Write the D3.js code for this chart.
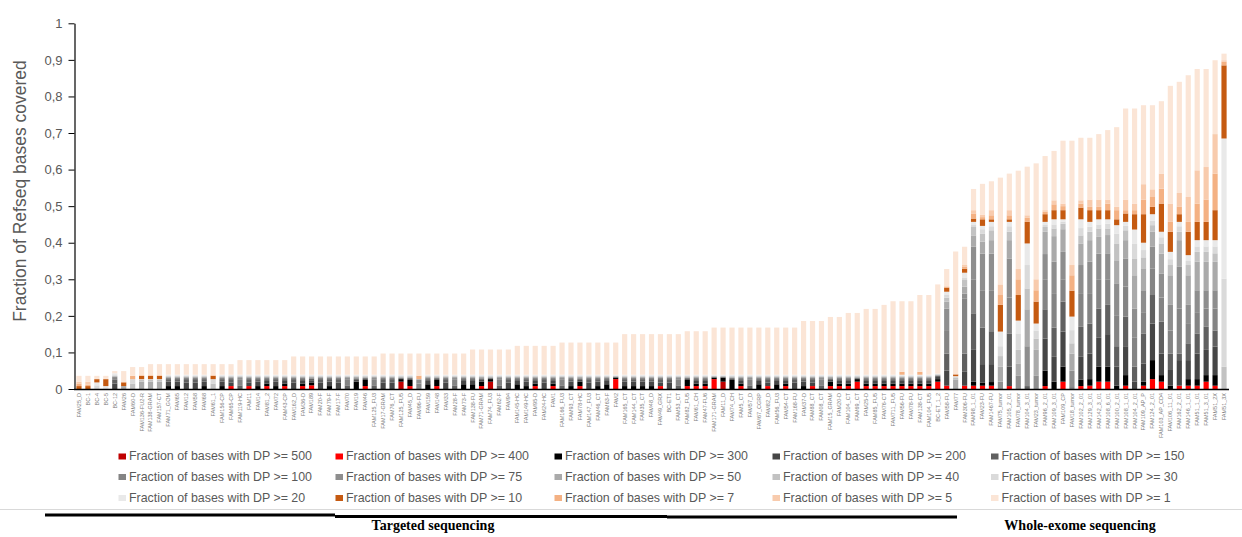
<!DOCTYPE html>
<html>
<head>
<meta charset="utf-8">
<script src="https://cdn.jsdelivr.net/npm/d3@7"></script>
<style>
  html, body { margin: 0; padding: 0; background: #fff; }
  svg { display: block; }
</style>
</head>
<body>
<svg id="chart" width="1242" height="537"></svg>
<script>
// Samples, in plotted order (targeted panels first, whole-exome last)
const samples = [
  "FAM25_D","BC-1","BC-4","BC-5","BC-12","FAM26","FAM60-D","FAM136-FU2-R","FAM138-GRAM","FAM157-CT",
  "FAM71_GOM","FAM65","FAM12","FAM58","FAM68","FAM61_1","FAM156-CP","FAM65-CP","FAM119-HC","FAM11",
  "FAM14","FAM81_2","FAM72","FAM43-CP","FAM162_D","FAM36-D","FAM189","FAM20-F","FAM79-F","FAM17-F",
  "FAM70","FAM19","FAM46","FAM125_FU3","FAM17-GRAM","FAM76_CT","FAM125_FU5","FAM45_D","FAM96-FU","FAM159",
  "FAM148","FAM33","FAM28-F","FAM73-F","FAM138-FU","FAM71-GRAM","FAM74_FU3","FAM62-F","FAM94","FAM145-HC",
  "FAM149-HC","FAM95-D","FAM24-HC","FAM1","FAM166_FU3","FAM93_CT","FAM78-HC","FAM147_FU3","FAM46_CT","FAM63-F",
  "FAM2","FAM165_CT","FAM144_CT","FAM35_CT","FAM48_D","FAM49_GRX","BC-ET1","FAM53_CT","FAM82_FU5","FAM61_CH",
  "FAM47-FU6","FAM171-GRAM","FAM11_D","FAM74_CH","FAM5_CT","FAM57_D","FAM67_CGRP","FAM82_D","FAM56_FU3","FAM54-CT",
  "FAM168-FU","FAM37-D","FAM88_CT","FAM08_CT","FAM15_GRAM","FAM20-D","FAM104_CT","FAM69_CT","FAM25-D","FAM85_FU5",
  "FAM76-CT","FAM711_FU5","FAM56-FU","FAM78-FU","FAM138-CT","FAM104_FU5","BC-ET_1_2","FAM58-FU","FAM77","FAM306-FU",
  "FAM98_1_01","FAM23-FU","FAM1467-FU","FAM75_tumor","FAM105_2_01","FAM78_tumor","FAM104_3_01","FAM23_tumor","FAM96_2_01","FAM109_3_01",
  "FAM109_CP","FAM18_tumor","FAM102_2_01","FAM129_3_01","FAM142_3_01","FAM108_6_01","FAM100_2_01","FAM108_1_01","FAM104_2_01","FAM109_AP_P",
  "FAM124_2_01","FAM103_AP_CD4","FAM106_11_01","FAM162_2_01","FAM146_1_01","FAM51_1_01","FAM51_3_01","FAM51_2X","FAM51_3X"
];

// Fraction of RefSeq bases reaching each depth threshold, one value per sample
const dp500 = [
  0,0,0,0,0,0,0,0,0,0,
  0,0,0,0,0,0,0,0,0,0,
  0,0,0,0,0,0,0,0,0,0,
  0,0,0,0,0,0,.02,0,0,0,
  0,0,0,0,0,0,.02,0,0,0,
  0,0,0,0,0,0,0,0,0,0,
  0,0,0,0,0,0,0,0,0,0,
  0,0,.02,0,0,0,0,0,0,0,
  0,0,0,0,0,0,0,0,0,0,
  0,0,0,0,0,0,0,0,0,0,
  0,0,0,0,0,0,0,0,0,0,
  0,0,0,0,0,0,0,0,0,0,
  0,0,0,0,0,0,0,0,0
];
const dp400 = [
  0,0,0,0,0,0,0,0,0,0,
  0,0,0,0,0,0,0,.008,0,.008,
  0,.008,0,.008,0,.008,.01,0,0,0,
  0,0,.008,0,0,0,.02,.008,0,0,
  .008,0,0,0,0,.008,.02,0,0,0,
  0,.008,0,.008,0,0,.008,0,0,0,
  .027,0,0,0,0,.008,0,0,.008,.008,
  .008,.027,.02,0,.008,0,0,.008,0,.008,
  0,0,.008,0,.008,.008,.008,.02,.008,.008,
  .008,.008,.008,.008,.008,.008,.02,.009,0,.009,
  .009,.009,.009,0,.008,0,0,0,.008,0,
  .02,0,.008,.009,.02,.02,0,.009,0,.009,
  .027,.02,0,.009,.009,.009,.02,.009,0
];
const dp300 = [
  0,0,0,0,0,0,0,0,0,0,
  .008,.008,0,0,.008,0,.008,.008,0,.008,
  .008,.015,.008,.015,0,.015,.018,0,.008,0,
  0,.02,.025,0,0,0,.027,.025,0,.013,
  .025,0,0,.013,.013,.02,.027,0,0,.013,
  .008,.015,0,.015,0,.008,.02,0,.008,.013,
  .031,.008,.008,.008,.008,.008,0,0,.025,.015,
  .015,.031,.031,.025,.015,0,.013,.008,.013,.015,
  0,.008,.008,0,.02,.015,.015,.027,.015,.015,
  .015,.015,.015,.015,.015,.015,.027,.009,0,.009,
  .02,.017,.019,0,.008,0,0,0,.05,.02,
  .061,0,.026,.027,.061,.061,.009,.038,0,.02,
  .079,.038,.009,.009,.027,.027,.038,.038,0
];
const dp200 = [
  0,0,0,0,.015,0,0,0,0,0,
  .02,.02,.018,.018,.02,0,.02,.018,0,.018,
  .02,.022,.02,.022,.018,.022,.024,.018,.02,.018,
  0,.025,.028,0,.018,.018,.029,.028,0,.022,
  .028,.018,0,.022,.022,.025,.029,0,.018,.022,
  .02,.022,.018,.022,0,.02,.025,.018,.02,.022,
  .032,.02,.02,.02,.02,.018,.018,0,.028,.022,
  .022,.032,.032,.028,.022,0,.022,.018,.022,.022,
  .018,.02,.018,0,.025,.022,.022,.029,.022,.022,
  .022,.022,.022,.022,.022,.022,.033,.05,0,.047,
  .107,.068,.068,0,.061,0,0,0,.138,.088,
  .157,0,.088,.097,.14,.15,.061,.117,.02,.07,
  .179,.097,.052,.079,.079,.097,.107,.116,0
];
const dp150 = [
  0,0,0,0,.025,0,0,0,0,0,
  .027,.027,.027,.027,.027,0,.027,.027,.01,.027,
  .027,.027,.027,.027,.027,.027,.028,.027,.027,.027,
  .01,.028,.03,.01,.027,.027,.03,.03,0,.027,
  .03,.027,.01,.027,.027,.028,.03,.01,.027,.027,
  .027,.027,.027,.027,.01,.027,.028,.027,.027,.027,
  .033,.027,.027,.027,.027,.027,.027,.01,.03,.027,
  .027,.033,.033,.03,.027,.01,.027,.027,.027,.027,
  .027,.027,.027,.01,.028,.027,.027,.03,.027,.027,
  .027,.027,.027,.027,.027,.027,.036,.097,0,.097,
  .207,.168,.158,0,.152,0,.008,0,.218,.168,
  .239,0,.17,.179,.22,.23,.117,.198,.061,.152,
  .257,.184,.097,.097,.125,.152,.17,.16,0
];
const dp100 = [
  0,0,0,0,.03,0,0,0,0,0,
  .03,.03,.03,.03,.03,0,.03,.03,.025,.03,
  .03,.03,.03,.03,.03,.03,.03,.03,.03,.03,
  .025,.03,.031,.025,.03,.03,.031,.031,.015,.03,
  .031,.03,.025,.03,.03,.03,.031,.025,.03,.03,
  .03,.03,.03,.03,.025,.03,.03,.03,.03,.03,
  .034,.03,.03,.03,.03,.03,.03,.025,.031,.03,
  .03,.034,.034,.031,.03,.025,.03,.03,.03,.03,
  .03,.03,.03,.025,.03,.03,.03,.031,.03,.03,
  .03,.03,.03,.03,.03,.03,.037,.161,0,.248,
  .3,.27,.27,0,.25,0,.008,0,.3,.26,
  .3,.008,.26,.26,.3,.3,.2,.28,.14,.21,
  .33,.25,.16,.22,.18,.21,.22,.22,0
];
const dp75 = [
  0,0,0,0,.033,0,0,0,0,0,
  .032,.032,.032,.032,.032,0,.032,.032,.03,.032,
  .032,.032,.032,.032,.032,.032,.032,.032,.032,.032,
  .03,.032,.032,.03,.032,.032,.032,.032,.025,.032,
  .032,.032,.03,.032,.032,.032,.032,.03,.032,.032,
  .032,.032,.032,.032,.03,.032,.032,.032,.032,.032,
  .034,.032,.032,.032,.032,.032,.032,.03,.032,.032,
  .032,.034,.034,.032,.032,.03,.032,.032,.032,.032,
  .032,.032,.032,.03,.032,.032,.032,.032,.032,.032,
  .032,.032,.032,.032,.032,.032,.038,.22,0,.261,
  .389,.37,.37,.02,.357,.036,.117,.036,.369,.348,
  .375,.05,.339,.348,.37,.371,.289,.357,.22,.27,
  .389,.316,.23,.334,.23,.27,.27,.27,0
];
const dp50 = [
  0,0,0,0,.035,.008,0,.02,.02,.02,
  .034,.034,.034,.034,.034,0,.034,.034,.033,.034,
  .034,.034,.034,.034,.034,.034,.034,.034,.034,.034,
  .033,.034,.034,.033,.034,.034,.034,.034,.027,.034,
  .034,.034,.033,.034,.034,.034,.034,.033,.034,.034,
  .034,.034,.034,.034,.033,.034,.034,.034,.034,.034,
  .035,.034,.034,.034,.034,.034,.034,.033,.034,.034,
  .034,.035,.035,.034,.034,.033,.034,.034,.034,.034,
  .034,.034,.034,.033,.034,.034,.034,.034,.034,.034,
  .034,.034,.034,.034,.034,.034,.039,.239,.025,.28,
  .42,.403,.407,.061,.407,.07,.218,.107,.43,.418,
  .437,.097,.398,.407,.416,.421,.352,.407,.311,.33,
  .43,.37,.311,.407,.311,.348,.348,.348,0
];
const dp40 = [
  0,0,0,0,.036,.008,.015,.025,.025,.025,
  .035,.035,.035,.035,.035,.015,.035,.035,.035,.035,
  .035,.035,.035,.035,.035,.035,.035,.035,.035,.035,
  .035,.035,.035,.035,.035,.035,.035,.035,.027,.035,
  .035,.035,.035,.035,.035,.035,.035,.035,.035,.035,
  .035,.035,.035,.035,.035,.035,.035,.035,.035,.035,
  .036,.035,.035,.035,.035,.035,.035,.035,.035,.035,
  .035,.036,.036,.035,.035,.035,.035,.035,.035,.035,
  .035,.035,.035,.035,.035,.035,.035,.035,.035,.035,
  .035,.035,.035,.035,.035,.035,.04,.25,.03,.298,
  .443,.425,.434,.09,.43,.107,.275,.138,.443,.439,
  .452,.125,.42,.43,.439,.439,.398,.434,.357,.36,
  .448,.398,.339,.43,.339,.375,.375,.371,.061
];
const dp30 = [
  0,0,.01,0,.04,.008,.027,.027,.027,.027,
  .037,.037,.037,.037,.037,.027,.037,.037,.037,.037,
  .037,.037,.037,.037,.037,.037,.037,.037,.037,.037,
  .037,.037,.037,.037,.037,.037,.037,.037,.027,.037,
  .037,.037,.037,.037,.037,.037,.037,.037,.037,.037,
  .037,.037,.037,.037,.037,.037,.037,.037,.037,.037,
  .037,.037,.037,.037,.037,.037,.037,.037,.037,.037,
  .037,.037,.037,.037,.037,.037,.037,.037,.037,.037,
  .037,.037,.037,.037,.037,.037,.037,.037,.037,.037,
  .037,.037,.037,.037,.037,.037,.041,.257,.033,.305,
  .45,.437,.445,.117,.445,.152,.339,.16,.45,.45,
  .458,.161,.44,.444,.45,.452,.425,.446,.398,.38,
  .46,.415,.355,.445,.35,.39,.39,.39,.302
];
const dp20 = [
  0,0,.018,.008,.043,.008,.027,.027,.027,.027,
  .039,.039,.039,.039,.039,.027,.039,.039,.039,.039,
  .039,.039,.039,.039,.039,.039,.039,.039,.039,.039,
  .039,.039,.039,.039,.039,.039,.039,.039,.027,.039,
  .039,.039,.039,.039,.039,.039,.039,.039,.039,.039,
  .039,.039,.039,.039,.039,.039,.039,.039,.039,.039,
  .039,.039,.039,.039,.039,.039,.039,.039,.039,.039,
  .039,.039,.039,.039,.039,.039,.039,.039,.039,.039,
  .039,.039,.039,.039,.039,.039,.039,.039,.039,.039,
  .039,.039,.039,.039,.039,.039,.042,.266,.035,.318,
  .457,.446,.457,.157,.457,.187,.398,.179,.457,.464,
  .464,.198,.464,.457,.464,.464,.448,.457,.436,.4,
  .478,.43,.375,.457,.366,.407,.407,.407,.685
];
const dp10 = [
  .008,.008,.027,.027,.043,.018,.027,.036,.036,.036,
  .039,.039,.039,.039,.039,.036,.039,.039,.039,.039,
  .039,.039,.039,.039,.039,.039,.039,.039,.039,.039,
  .039,.039,.039,.039,.039,.039,.039,.039,.027,.039,
  .039,.039,.039,.039,.039,.039,.039,.039,.039,.039,
  .039,.039,.039,.039,.039,.039,.039,.039,.039,.039,
  .039,.039,.039,.039,.039,.039,.039,.039,.039,.039,
  .039,.039,.039,.039,.039,.039,.039,.039,.039,.039,
  .039,.039,.039,.039,.039,.039,.039,.039,.039,.039,
  .039,.039,.039,.039,.039,.039,.042,.277,.04,.329,
  .466,.464,.464,.23,.464,.257,.457,.239,.478,.489,
  .489,.269,.496,.489,.489,.489,.464,.48,.478,.478,
  .498,.507,.43,.478,.43,.457,.457,.489,.885
];
const dp7 = [
  .015,.012,.027,.027,.043,.02,.036,.037,.037,.037,
  .039,.039,.039,.039,.039,.037,.039,.039,.039,.039,
  .039,.039,.039,.039,.039,.039,.039,.039,.039,.039,
  .039,.039,.039,.039,.039,.039,.039,.039,.036,.039,
  .039,.039,.039,.039,.039,.039,.039,.039,.039,.039,
  .039,.039,.039,.039,.039,.039,.039,.039,.039,.039,
  .039,.039,.039,.039,.039,.039,.039,.039,.039,.039,
  .039,.039,.039,.039,.039,.039,.039,.039,.039,.039,
  .039,.039,.039,.039,.039,.039,.039,.039,.039,.039,
  .039,.039,.047,.039,.047,.039,.042,.279,.04,.335,
  .48,.47,.475,.257,.475,.3,.468,.27,.485,.505,
  .5,.311,.507,.498,.498,.507,.489,.489,.489,.518,
  .525,.548,.457,.498,.457,.507,.518,.589,.895
];
const dp5 = [
  .02,.02,.027,.027,.043,.02,.036,.038,.038,.038,
  .039,.039,.039,.039,.039,.038,.039,.039,.039,.039,
  .039,.039,.039,.039,.039,.039,.039,.039,.039,.039,
  .039,.039,.039,.039,.039,.039,.039,.039,.037,.039,
  .039,.039,.039,.039,.039,.039,.039,.039,.039,.039,
  .039,.039,.039,.039,.039,.039,.039,.039,.039,.039,
  .039,.039,.039,.039,.039,.039,.039,.039,.039,.039,
  .039,.039,.039,.039,.039,.039,.039,.039,.039,.039,
  .039,.039,.039,.039,.039,.039,.039,.039,.039,.039,
  .039,.039,.047,.039,.047,.039,.042,.281,.04,.339,
  .489,.477,.489,.286,.489,.328,.475,.3,.489,.516,
  .507,.339,.516,.518,.518,.518,.498,.518,.507,.56,
  .546,.589,.507,.536,.525,.598,.607,.697,.899
];
const dp1 = [
  .036,.036,.036,.036,.049,.049,.06,.06,.068,.068,
  .068,.068,.068,.068,.068,.068,.068,.068,.079,.079,
  .079,.079,.079,.079,.089,.089,.089,.089,.089,.089,
  .089,.089,.089,.089,.097,.097,.097,.097,.097,.097,
  .097,.097,.097,.097,.108,.108,.108,.108,.108,.118,
  .118,.118,.118,.118,.127,.127,.127,.127,.127,.127,
  .127,.15,.15,.15,.15,.15,.15,.15,.158,.158,
  .158,.168,.168,.168,.168,.168,.168,.168,.168,.168,
  .168,.186,.186,.186,.197,.197,.208,.208,.219,.219,
  .23,.24,.24,.24,.257,.257,.286,.328,.376,.389,
  .547,.561,.568,.578,.589,.597,.608,.617,.637,.651,
  .679,.679,.687,.687,.697,.708,.716,.767,.767,.776,
  .776,.787,.829,.84,.858,.875,.875,.899,.917
];

const thresholds = [500, 400, 300, 200, 150, 100, 75, 50, 40, 30, 20, 10, 7, 5, 1];
const seriesColors = ["#C00000","#FF0000","#000000","#464646","#606060","#848484","#8E8E8E",
                      "#AAAAAA","#C2C2C2","#DADADA","#E9E9E9","#C55A11","#F4B183","#F8CBAD","#FBE5D6"];
const yTicks = [0, 0.1, 0.2, 0.3, 0.4, 0.5, 0.6, 0.7, 0.8, 0.9, 1];
const yTitle = "Fraction of Refseq bases covered";
const groupNames = ["Targeted sequencing", "Whole-exome sequencing"];

const series = [dp500, dp400, dp300, dp200, dp150, dp100, dp75, dp50, dp40, dp30, dp20, dp10, dp7, dp5, dp1];

const svg = d3.select("#chart");
const sans = "'Liberation Sans', Arial, sans-serif";

const x = d3.scaleBand()
  .domain(d3.range(samples.length))
  .range([74.5, 1228.5])
  .paddingInner(0.42)
  .paddingOuter(0.21);

const y = d3.scaleLinear().domain([0, 1]).range([389, 23.3]);

// Stacked segments: each depth band spans from the next-stricter threshold up to its own fraction
const bars = svg.append("g").attr("class", "bars");
series.forEach((vals, k) => {
  const below = k === 0 ? null : series[k - 1];
  bars.append("g")
    .attr("fill", seriesColors[k])
    .selectAll("rect")
    .data(vals)
    .join("rect")
    .attr("x", (d, i) => x(i))
    .attr("width", x.bandwidth())
    .attr("y", d => y(d))
    .attr("height", (d, i) => Math.max(0, y(below ? below[i] : 0) - y(d)));
});

// Y axis with comma decimals
const locale = d3.formatLocale({ decimal: ",", thousands: ".", grouping: [3], currency: ["", ""] });
const fmt = locale.format(".1~f");
const yAxis = svg.append("g")
  .attr("transform", "translate(74.5,0)")
  .call(d3.axisLeft(y).tickValues(yTicks).tickFormat(fmt).tickSize(6).tickSizeOuter(0).tickPadding(6));
yAxis.select(".domain").attr("stroke", "#000").attr("stroke-width", 1.2);
yAxis.selectAll(".tick line").attr("stroke", "#000");
yAxis.selectAll(".tick text")
  .attr("fill", "#595959")
  .style("font-family", sans)
  .style("font-size", "13px");

svg.append("text")
  .attr("transform", "translate(26,191) rotate(-90)")
  .attr("text-anchor", "middle")
  .attr("fill", "#595959")
  .style("font-family", sans)
  .style("font-size", "17.5px")
  .text(yTitle);

// X axis baseline
svg.append("line")
  .attr("x1", 74).attr("x2", 1229)
  .attr("y1", y(0) + 0.5).attr("y2", y(0) + 0.5)
  .attr("stroke", "#000").attr("stroke-width", 1.5);

// Sample names under each bar
svg.append("g").selectAll("text")
  .data(samples)
  .join("text")
  .attr("transform", (d, i) => `translate(${x(i) + x.bandwidth() / 2},393) rotate(-90)`)
  .attr("text-anchor", "end")
  .attr("dy", "0.35em")
  .attr("fill", "#808080")
  .style("font-family", sans)
  .style("font-size", "5.5px")
  .text(d => d);

// Legend: 5 columns x 3 rows
const legendCols = [118.5, 335.5, 554.5, 772.5, 991];
const legendRows = [456, 476.5, 497.5];
const legend = svg.append("g");
thresholds.forEach((t, k) => {
  const cx = legendCols[k % 5], cy = legendRows[Math.floor(k / 5)];
  legend.append("rect")
    .attr("x", cx).attr("y", cy - 2.5)
    .attr("width", 7.5).attr("height", 6)
    .attr("fill", seriesColors[k]);
  legend.append("text")
    .attr("x", cx + 10.5).attr("y", cy)
    .attr("dy", "0.35em")
    .attr("fill", "#595959")
    .style("font-family", sans)
    .style("font-size", "12.4px")
    .text(`Fraction of bases with DP >= ${t}`);
});

// Separator under the legend
svg.append("line")
  .attr("x1", 0).attr("x2", 1242)
  .attr("y1", 509.5).attr("y2", 509.5)
  .attr("stroke", "#D9D9D9").attr("stroke-width", 1);

// Group brackets and names
const rules = [[45, 335, 515], [335, 667, 516.5], [667, 957, 517]];
svg.append("g").selectAll("line")
  .data(rules)
  .join("line")
  .attr("x1", d => d[0]).attr("x2", d => d[1])
  .attr("y1", d => d[2]).attr("y2", d => d[2])
  .attr("stroke", "#000").attr("stroke-width", 3);

svg.append("text")
  .attr("x", 433).attr("y", 530)
  .attr("text-anchor", "middle")
  .style("font-family", "'Liberation Serif', 'Times New Roman', serif")
  .style("font-weight", "bold")
  .style("font-size", "14px")
  .attr("fill", "#000")
  .text(groupNames[0]);

svg.append("text")
  .attr("x", 1080).attr("y", 530)
  .attr("text-anchor", "middle")
  .style("font-family", "'Liberation Serif', 'Times New Roman', serif")
  .style("font-weight", "bold")
  .style("font-size", "14px")
  .attr("fill", "#000")
  .text(groupNames[1]);
</script>
</body>
</html>
